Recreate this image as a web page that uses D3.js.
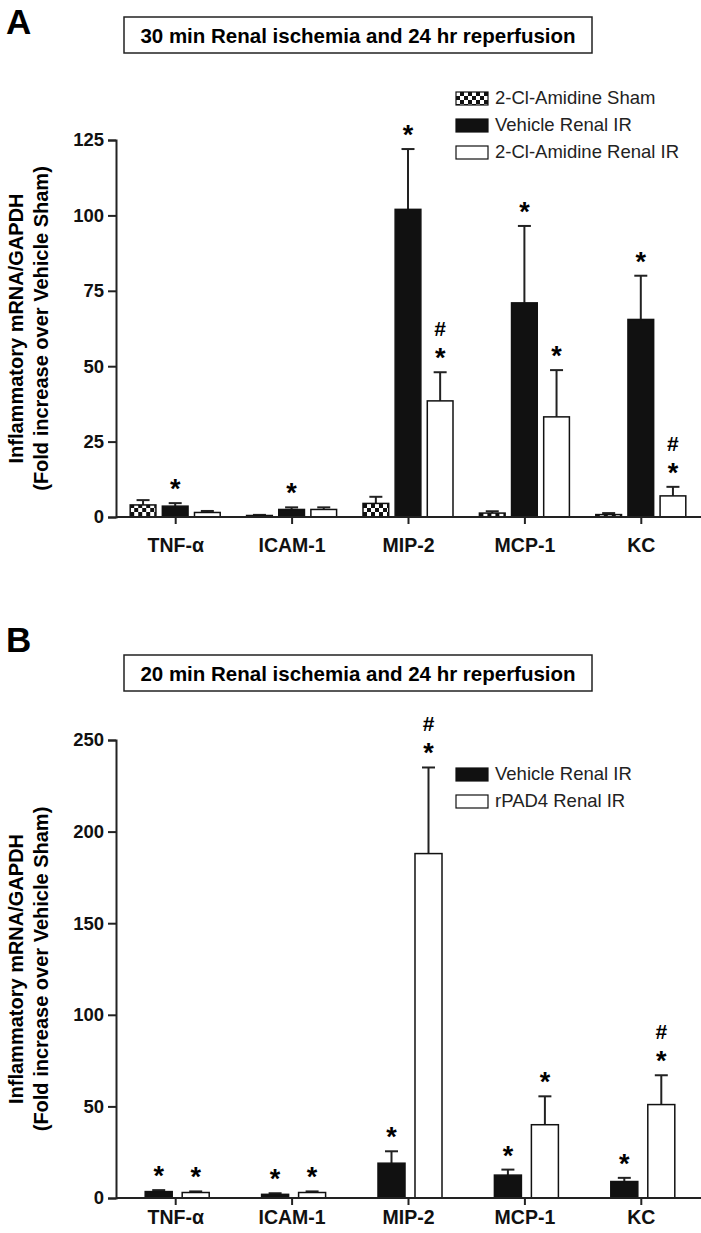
<!DOCTYPE html>
<html>
<head>
<meta charset="utf-8">
<script src="https://cdn.jsdelivr.net/npm/d3@7"></script>
<style>
  body { margin: 0; background: #fff; }
  svg { font-family: 'Liberation Sans', Arial, sans-serif; }
</style>
</head>
<body>
<svg width="701" height="1233"></svg>
<script>
// genes on the x axis (same for both panels)
let genes = ['TNF-α', 'ICAM-1', 'MIP-2', 'MCP-1', 'KC'];

// panel A: 30 min ischemia
let seriesA = ['2-Cl-Amidine Sham', 'Vehicle Renal IR', '2-Cl-Amidine Renal IR'];
let shamA = [4, 0.5, 4.5, 1.3, 0.8];
let shamErrA = [1.6, 0.2, 2.2, 0.6, 0.5];
let vehA = [3.6, 2.5, 102, 71, 65.5];
let vehErrA = [1.0, 0.7, 20, 25.5, 14.5];
let amidA = [1.5, 2.5, 38.5, 33.2, 7];
let amidErrA = [0.5, 0.7, 9.5, 15.5, 3];
let sigA = [
    ['', '*', ''],
    ['', '*', ''],
    ['', '*', '#*'],
    ['', '*', '*'],
    ['', '*', '#*']
];
let ticksA = [0, 25, 50, 75, 100, 125];

// panel B: 20 min ischemia
let seriesB = ['Vehicle Renal IR', 'rPAD4 Renal IR'];
let vehB = [3.5, 2, 19, 12.5, 9];
let vehErrB = [0.8, 0.6, 6.5, 3, 2];
let padB = [3, 3, 188, 40, 51];
let padErrB = [0.6, 0.6, 47, 15.5, 16];
let sigB = [
    ['*', '*'],
    ['*', '*'],
    ['*', '#*'],
    ['*', '*'],
    ['*', '#*']
];
let ticksB = [0, 50, 100, 150, 200, 250];

let svg = d3.select('svg');

// checkered fill for the sham bars
let defs = svg.append('defs');
let pat = defs.append('pattern')
    .attr('id', 'checker')
    .attr('patternUnits', 'userSpaceOnUse')
    .attr('width', 8).attr('height', 8);
pat.append('rect').attr('width', 8).attr('height', 8).attr('fill', '#fff');
pat.append('rect').attr('width', 4).attr('height', 4).attr('fill', '#111');
pat.append('rect').attr('x', 4).attr('y', 4).attr('width', 4).attr('height', 4).attr('fill', '#111');

let fills = {
    '2-Cl-Amidine Sham': 'url(#checker)',
    'Vehicle Renal IR': '#111',
    '2-Cl-Amidine Renal IR': '#fff',
    'rPAD4 Renal IR': '#fff'
};

function drawPanel(p) {
    let g = svg.append('g');

    let y = d3.scaleLinear().domain(p.domain).range([p.y0, p.y1]);
    let x = d3.scalePoint().domain(genes).range([117, 699]).padding(0.5);
    let xs = d3.scaleBand().domain(p.series).range(p.inner).paddingInner(p.pad);

    // panel letter
    g.append('text')
        .attr('x', 6).attr('y', p.letterY)
        .attr('font-size', 35).attr('font-weight', 'bold')
        .text(p.letter);

    // title box
    g.append('rect')
        .attr('x', 124).attr('y', p.boxY)
        .attr('width', 468).attr('height', 36)
        .attr('fill', 'none').attr('stroke', '#222').attr('stroke-width', 1.5);
    g.append('text')
        .attr('x', 358).attr('y', p.boxY + 25.5)
        .attr('text-anchor', 'middle')
        .attr('font-size', 20.5).attr('font-weight', 'bold')
        .text(p.title);

    // y axis
    let yAxis = g.append('g')
        .attr('transform', 'translate(116,0)')
        .call(d3.axisLeft(y).tickValues(p.ticks).tickSize(8).tickPadding(4));
    yAxis.select('.domain').attr('stroke', '#222').attr('stroke-width', 2);
    yAxis.selectAll('.tick line').attr('stroke', '#222').attr('stroke-width', 2);
    yAxis.selectAll('text')
        .attr('font-size', 18.5).attr('font-weight', 'bold')
        .attr('font-family', 'Liberation Sans, Arial, sans-serif')
        .attr('fill', '#111');

    // y title, two lines
    let midY = (p.y0 + p.y1) / 2;
    g.append('text')
        .attr('transform', `translate(23,${midY}) rotate(-90)`)
        .attr('text-anchor', 'middle')
        .attr('font-size', 20).attr('font-weight', 'bold')
        .text('Inflammatory mRNA/GAPDH');
    g.append('text')
        .attr('transform', `translate(48,${midY}) rotate(-90)`)
        .attr('text-anchor', 'middle')
        .attr('font-size', 20).attr('font-weight', 'bold')
        .text('(Fold increase over Vehicle Sham)');

    // bars
    let rows = [];
    genes.forEach((gene, i) => {
        p.series.forEach((s, j) => {
            rows.push({
                gene: gene, series: s,
                value: p.values[j][i], err: p.errs[j][i],
                sig: p.sig[i][j]
            });
        });
    });

    let bw = xs.bandwidth();
    let bars = g.append('g').selectAll('g').data(rows).enter().append('g')
        .attr('transform', d => `translate(${x(d.gene) + xs(d.series)},0)`);

    // error bars first so the bar covers the stem
    bars.append('line')
        .attr('x1', bw / 2).attr('x2', bw / 2)
        .attr('y1', d => y(d.value)).attr('y2', d => y(d.value + d.err))
        .attr('stroke', '#222').attr('stroke-width', 2);
    bars.append('line')
        .attr('x1', bw / 2 - 6.5).attr('x2', bw / 2 + 6.5)
        .attr('y1', d => y(d.value + d.err)).attr('y2', d => y(d.value + d.err))
        .attr('stroke', '#222').attr('stroke-width', 2);

    bars.append('rect')
        .attr('x', 0).attr('width', bw)
        .attr('y', d => y(d.value))
        .attr('height', d => y(0) - y(d.value))
        .attr('fill', d => fills[d.series])
        .attr('stroke', '#111').attr('stroke-width', 1.5);

    // significance marks
    bars.filter(d => d.sig.indexOf('*') >= 0).append('text')
        .attr('x', bw / 2).attr('y', d => y(d.value + d.err) - 5)
        .attr('text-anchor', 'middle')
        .attr('font-size', 27).attr('font-weight', 'bold')
        .text('*');
    bars.filter(d => d.sig.indexOf('#') >= 0).append('text')
        .attr('x', bw / 2).attr('y', d => y(d.value + d.err) - 36)
        .attr('text-anchor', 'middle')
        .attr('font-size', 21).attr('font-weight', 'bold')
        .text('#');

    // x axis
    let xAxis = g.append('g')
        .attr('transform', `translate(0,${p.y0})`)
        .call(d3.axisBottom(x).tickSize(7).tickPadding(p.xPad).tickSizeOuter(0));
    xAxis.select('.domain').attr('stroke', '#222').attr('stroke-width', 2)
        .attr('d', 'M116,0H701');
    xAxis.selectAll('.tick line').attr('stroke', '#222').attr('stroke-width', 2);
    xAxis.selectAll('text')
        .attr('font-size', 19.5).attr('font-weight', 'bold')
        .attr('font-family', 'Liberation Sans, Arial, sans-serif')
        .attr('fill', '#111');

    // legend
    let leg = g.append('g').selectAll('g').data(p.series).enter().append('g')
        .attr('transform', (d, i) => `translate(456,${p.legY + i * 27})`);
    leg.append('rect')
        .attr('width', 32).attr('height', 13).attr('y', -12)
        .attr('fill', d => fills[d])
        .attr('stroke', '#111').attr('stroke-width', 1.2);
    leg.append('text')
        .attr('x', 39).attr('y', 0)
        .attr('font-size', 18.5)
        .attr('fill', '#222')
        .text(d => d);
}

drawPanel({
    letter: 'A', letterY: 34, boxY: 17,
    title: '30 min Renal ischemia and 24 hr reperfusion',
    domain: [0, 125], y0: 517, y1: 140, ticks: ticksA,
    series: seriesA, values: [shamA, vehA, amidA], errs: [shamErrA, vehErrA, amidErrA],
    sig: sigA, inner: [-45, 45], pad: 0.2, legY: 104, xPad: 14
});

drawPanel({
    letter: 'B', letterY: 652, boxY: 655,
    title: '20 min Renal ischemia and 24 hr reperfusion',
    domain: [0, 250], y0: 1198, y1: 740, ticks: ticksB,
    series: seriesB, values: [vehB, padB], errs: [vehErrB, padErrB],
    sig: sigB, inner: [-30, 34], pad: 0.27, legY: 780, xPad: 5
});
</script>
</body>
</html>
